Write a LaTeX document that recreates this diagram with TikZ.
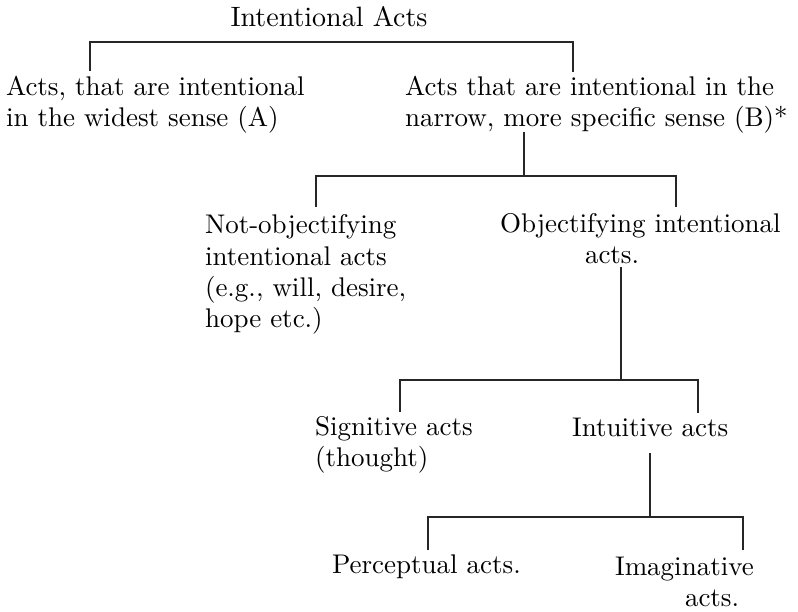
\documentclass[tikz,border=0pt]{standalone}
\usepackage{fontspec}
\setmainfont{lmroman10-regular}[Extension=.otf]
\begin{document}
\begin{tikzpicture}[x=1pt,y=-1pt,
  txt/.style={font=\fontsize{27}{31}\selectfont, inner sep=0pt, outer sep=0pt, anchor=base west, align=left},
  ttl/.style={font=\fontsize{28}{31}\selectfont, inner sep=0pt, outer sep=0pt, anchor=base},
  ln/.style={line width=1.2pt, draw=black!85}]
\useasboundingbox (0,0) rectangle (798,612);
% texts (anchor = baseline of the last line)
\node[ttl] (root) at (329,27) {Intentional Acts};
\node[txt] (A) at (6,127) {Acts, that are intentional\\in the widest sense (A)};
\node[txt] (B) at (405,127) {Acts that are intentional in the\\narrow, more specific sense (B)*};
\node[txt] (N) at (205,327) {Not-objectifying\\intentional acts\\(e.g., will, desire,\\hope etc.)};
\node[txt] (O) at (500,264) {Objectifying intentional\\\hspace*{85pt}acts.};
\node[txt] (S) at (315,466) {Signitive acts\\(thought)};
\node[txt] (I) at (572,436) {Intuitive acts};
\node[txt] (P) at (332,573) {Perceptual acts.};
\node[txt] (M) at (615,606) {Imaginative\\\hspace*{70pt}acts.};
% bracket 1 (root -> A, B)
\coordinate (c1l) at (90,42);  \coordinate (c1r) at (573,42);
\coordinate (e1l) at (90,71);  \coordinate (e1r) at (573,72);
\draw[ln] (e1l) -- (c1l) -- (c1r) -- (e1r);
% bracket 2 (B -> N, O)
\coordinate (s2) at (524,132); \coordinate (m2) at (524,176);
\coordinate (c2l) at (316,176); \coordinate (c2r) at (676,176);
\coordinate (e2l) at (316,207); \coordinate (e2r) at (676,207);
\draw[ln] (s2) -- (m2);
\draw[ln] (e2l) -- (c2l) -- (c2r) -- (e2r);
% bracket 3 (O -> S, I)
\coordinate (s3) at (621,267); \coordinate (m3) at (621,380);
\coordinate (c3l) at (400,380); \coordinate (c3r) at (698,380);
\coordinate (e3l) at (400,412); \coordinate (e3r) at (698,413);
\draw[ln] (s3) -- (m3);
\draw[ln] (e3l) -- (c3l) -- (c3r) -- (e3r);
% bracket 4 (I -> P, M)
\coordinate (s4) at (650,453); \coordinate (m4) at (650,517);
\coordinate (c4l) at (428,517); \coordinate (c4r) at (743,517);
\coordinate (e4l) at (428,550); \coordinate (e4r) at (743,550);
\draw[ln] (s4) -- (m4);
\draw[ln] (e4l) -- (c4l) -- (c4r) -- (e4r);
\end{tikzpicture}
\end{document}
